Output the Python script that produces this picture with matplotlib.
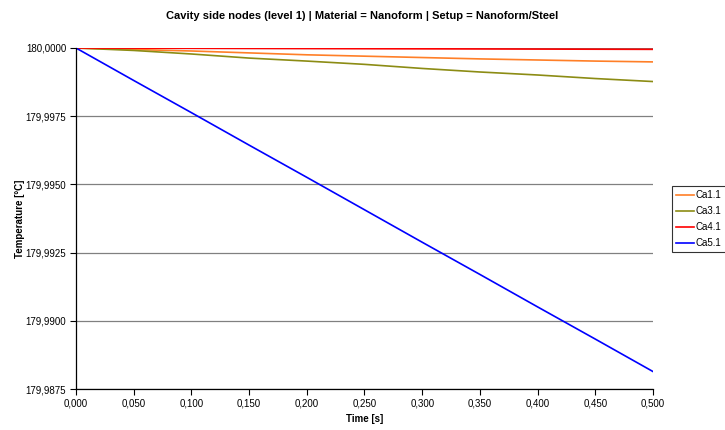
import matplotlib
matplotlib.use("Agg")
import matplotlib.pyplot as plt
from matplotlib.ticker import FuncFormatter, MultipleLocator

plt.rcParams['font.family'] = ['Liberation Sans', 'DejaVu Sans']

# Time samples [s]
time_s = [0.00, 0.05, 0.10, 0.15, 0.20, 0.25, 0.30, 0.35, 0.40, 0.45, 0.50]

# Node temperatures [°C]
ca1_1 = [180.0, 179.999945, 179.99989, 179.99982, 179.99975, 179.99970,
         179.99965, 179.99960, 179.99956, 179.99952, 179.99949]
ca3_1 = [180.0, 179.99991, 179.99978, 179.99963, 179.99952, 179.99940,
         179.99925, 179.99912, 179.99901, 179.99888, 179.99877]
ca4_1 = [180.0, 179.999995, 179.99999, 179.999985, 179.99998, 179.999975,
         179.99997, 179.999965, 179.99996, 179.999955, 179.99995]
ca5_1 = [180.0, 179.99881, 179.99763, 179.99644, 179.99526, 179.99407,
         179.99288, 179.99170, 179.99051, 179.98933, 179.98814]

series_names = ['Ca1.1', 'Ca3.1', 'Ca4.1', 'Ca5.1']
series_values = [ca1_1, ca3_1, ca4_1, ca5_1]
series_colors = ['#FF7F27', '#8C8C14', '#FF0000', '#0000FF']

title = 'Cavity side nodes (level 1) | Material = Nanoform | Setup = Nanoform/Steel'

fig = plt.figure(figsize=(7.25, 4.30), dpi=100)
ax = fig.add_axes([0.1048, 0.0953, 0.7959, 0.7931])

for name, vals, col in zip(series_names, series_values, series_colors):
    ax.plot(time_s, vals, color=col, lw=1.2, label=name)

ax.set_xlim(0, 0.5)
ax.set_ylim(179.9875, 180.0)
ax.xaxis.set_major_locator(MultipleLocator(0.05))
ax.yaxis.set_major_locator(MultipleLocator(0.0025))
ax.xaxis.set_major_formatter(FuncFormatter(lambda v, p: f'{v:.3f}'.replace('.', ',')))
ax.yaxis.set_major_formatter(FuncFormatter(lambda v, p: f'{v:.4f}'.replace('.', ',')))

ax.grid(axis='y', color='#808080', lw=0.9)
ax.set_axisbelow(True)
for s in ['top', 'right']:
    ax.spines[s].set_visible(False)
for s in ['left', 'bottom']:
    ax.spines[s].set_color('black')
    ax.spines[s].set_linewidth(0.9)
ax.tick_params(axis='both', direction='out', length=4, width=0.8,
               labelsize=7, colors='black', pad=3)

ax.set_xlabel('Time [s]', fontsize=7, fontweight='bold', labelpad=4)
ax.set_ylabel('Temperature [°C]', fontsize=7, fontweight='bold', labelpad=0.5)
fig.suptitle(title, fontsize=8, fontweight='bold', y=0.975)

leg = ax.legend(loc='upper left', bbox_to_anchor=(1.033, 0.595), fontsize=7,
                frameon=True, fancybox=False, edgecolor='black',
                handlelength=1.9, handletextpad=0.15, borderpad=0.4,
                labelspacing=0.62, borderaxespad=0)
leg.get_frame().set_linewidth(0.8)

fig.savefig('out.png', dpi=100, facecolor='white')
